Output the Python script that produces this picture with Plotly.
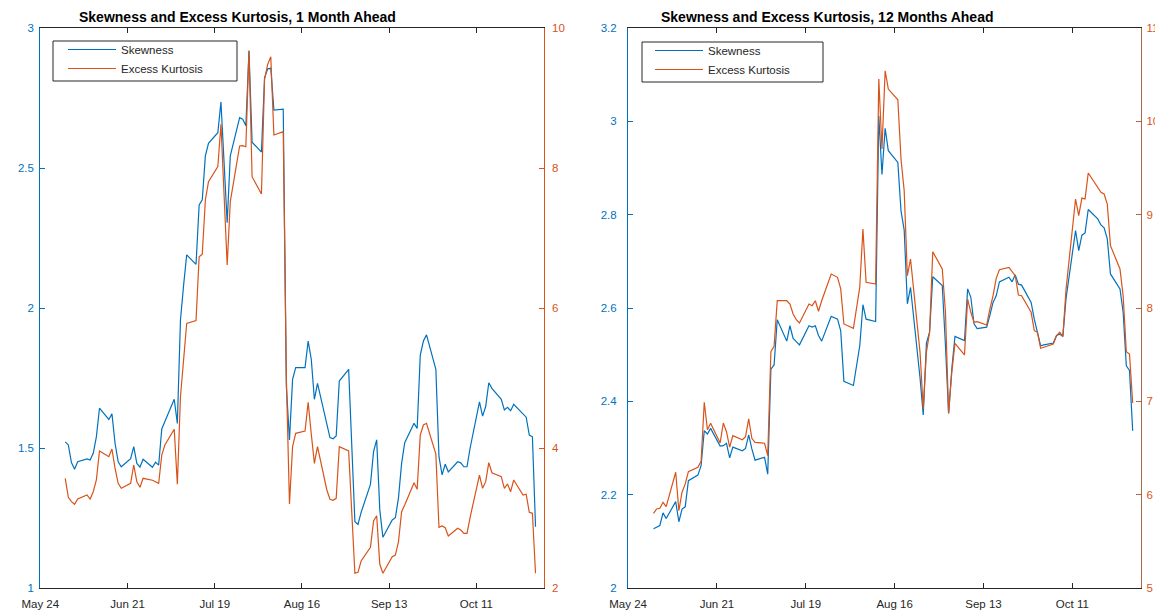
import pandas as pd
import plotly.graph_objects as go

# ---------------- data ----------------
dates = pd.bdate_range("2020-06-01", "2020-10-30")

skew_1m = [
    1.522, 1.511, 1.448, 1.424, 1.451, 1.461, 1.457, 1.481, 1.540, 1.642, 1.602, 1.622, 1.517, 1.451, 1.433, 1.462, 1.505, 1.445, 1.432, 1.460, 1.431, 1.449,
    1.439, 1.568, 1.595, 1.674, 1.588, 1.957, 2.080, 2.190, 2.156, 2.368, 2.386, 2.543, 2.588, 2.626, 2.736, 2.520, 2.305, 2.543, 2.680, 2.674, 2.651, 2.919, 2.592,
    2.557, 2.822, 2.854, 2.856, 2.707, 2.710, 1.720, 1.529, 1.745, 1.787, 1.787, 1.882, 1.817, 1.674, 1.731, 1.582, 1.537, 1.533, 1.543, 1.739, 1.781,
    1.510, 1.237, 1.227, 1.270, 1.370, 1.487, 1.529, 1.279, 1.181, 1.243, 1.251, 1.322, 1.445, 1.519, 1.588, 1.570, 1.832, 1.882, 1.904, 1.781, 1.469, 1.404,
    1.442, 1.415, 1.451, 1.447, 1.433, 1.433, 1.500, 1.665, 1.614, 1.648, 1.733, 1.713, 1.674, 1.636, 1.645, 1.633, 1.656, 1.624, 1.610, 1.546, 1.540, 1.219,
]
kurt_1m = [
    3.567, 3.296, 3.233, 3.196, 3.271, 3.329, 3.271, 3.376, 3.543, 3.957, 3.876, 3.986, 3.710, 3.496, 3.424, 3.496, 3.757, 3.519, 3.439, 3.567, 3.539, 3.519,
    3.496, 3.900, 4.043, 4.267, 3.481, 4.733, 5.300, 5.780, 5.820, 6.733, 6.770, 7.543, 7.804, 8.019, 8.624, 7.600, 6.614, 7.519, 8.314, 8.319, 8.304, 9.676, 7.876,
    7.629, 9.267, 9.481, 9.590, 8.471, 8.519, 5.000, 3.200, 4.019, 4.210, 4.243, 4.653, 4.200, 3.781, 4.019, 3.400, 3.267, 3.253, 3.281, 4.019, 3.957,
    3.100, 2.210, 2.224, 2.386, 2.581, 2.957, 3.033, 2.339, 2.210, 2.447, 2.471, 2.661, 3.090, 3.186, 3.504, 3.410, 4.186, 4.329, 4.353, 3.914, 2.867, 2.886,
    2.861, 2.743, 2.853, 2.829, 2.781, 2.781, 3.010, 3.614, 3.424, 3.519, 3.790, 3.647, 3.590, 3.424, 3.486, 3.376, 3.543, 3.329, 3.339, 3.081, 3.067, 2.210,
]
skew_12m = [
    2.127, 2.131, 2.134, 2.161, 2.149, 2.185, 2.142, 2.169, 2.174, 2.230, 2.242, 2.262, 2.337, 2.330, 2.342, 2.304, 2.305, 2.310, 2.279, 2.302, 2.294, 2.299,
    2.328, 2.298, 2.274, 2.280, 2.244, 2.469, 2.478, 2.575, 2.529, 2.562, 2.535, 2.528, 2.521, 2.562, 2.559, 2.562, 2.541, 2.529, 2.582, 2.579, 2.576, 2.551, 2.443,
    2.434, 2.476, 2.519, 2.607, 2.576, 2.571, 3.012, 2.886, 2.985, 2.937, 2.912, 2.808, 2.767, 2.609, 2.644, 2.450, 2.371, 2.524, 2.548, 2.667, 2.648,
    2.520, 2.374, 2.469, 2.539, 2.530, 2.641, 2.623, 2.566, 2.556, 2.559, 2.584, 2.612, 2.626, 2.656, 2.666, 2.656, 2.671, 2.651, 2.649, 2.612, 2.576, 2.548,
    2.519, 2.521, 2.525, 2.541, 2.544, 2.539, 2.620, 2.766, 2.723, 2.756, 2.761, 2.811, 2.791, 2.778, 2.772, 2.748, 2.673, 2.641, 2.591, 2.476, 2.466, 2.337,
]
kurt_12m = [
    5.800, 5.847, 5.854, 5.918, 5.871, 6.240, 5.829, 6.026, 6.115, 6.246, 6.293, 6.358, 6.990, 6.696, 6.765, 6.554, 6.768, 6.675, 6.508, 6.632, 6.589, 6.621,
    6.811, 6.604, 6.561, 6.551, 6.418, 7.532, 7.590, 8.078, 8.078, 8.043, 7.936, 7.875, 7.840, 8.043, 8.025, 8.078, 7.965, 8.078, 8.364, 8.346, 8.329, 8.204, 7.829,
    7.782, 7.990, 8.222, 8.846, 8.275, 8.257, 10.453, 9.703, 10.542, 10.346, 10.231, 9.596, 9.257, 8.346, 8.525, 7.525, 6.918, 7.525, 7.740, 8.603, 8.418,
    7.960, 6.872, 7.311, 7.622, 7.497, 8.096, 7.954, 7.847, 7.853, 7.818, 7.989, 8.132, 8.318, 8.410, 8.436, 8.389, 8.346, 8.139, 8.132, 7.954, 7.757, 7.740,
    7.568, 7.579, 7.614, 7.703, 7.740, 7.697, 8.200, 9.168, 8.989, 9.178, 9.168, 9.446, 9.293, 9.239, 9.221, 9.114, 8.668, 8.418, 8.132, 7.532, 7.507, 6.982,
]

tick_dates = ["2020-05-24", "2020-06-21", "2020-07-19", "2020-08-16", "2020-09-13", "2020-10-11"]
tick_text = ["May 24", "Jun 21", "Jul 19", "Aug 16", "Sep 13", "Oct 11"]
titles = ["Skewness and Excess Kurtosis, 1 Month Ahead",
          "Skewness and Excess Kurtosis, 12 Months Ahead"]

# ---------------- style ----------------
OFF = 8                      # default page body margin
W, H = 1163 - OFF, 610 - OFF
BLUE = "#0072BD"
ORANGE = "#D95319"
DARK = "#262626"
FONT = "Liberation Sans, Arial, sans-serif"
FS = 11.5
x_range = ["2020-05-24", "2020-11-01 15:00"]

def fx(px):  # screen px -> paper fraction
    return (px - OFF) / W

def fy(py):
    return 1 - (py - OFF) / H

top, bot = 28, 588
ydom = [fy(bot), fy(top)]
xdom1 = [fx(40.3), fx(543.7)]
xdom2 = [fx(628.1), fx(1141.0)]

fig = go.Figure()
lw = 1.2
fig.add_trace(go.Scatter(x=dates, y=skew_1m, name="Skewness", mode="lines",
                         line=dict(color=BLUE, width=lw), xaxis="x", yaxis="y", legend="legend"))
fig.add_trace(go.Scatter(x=dates, y=kurt_1m, name="Excess Kurtosis", mode="lines",
                         line=dict(color=ORANGE, width=lw), xaxis="x", yaxis="y2", legend="legend"))
fig.add_trace(go.Scatter(x=dates, y=skew_12m, name="Skewness", mode="lines",
                         line=dict(color=BLUE, width=lw), xaxis="x2", yaxis="y3", legend="legend2"))
fig.add_trace(go.Scatter(x=dates, y=kurt_12m, name="Excess Kurtosis", mode="lines",
                         line=dict(color=ORANGE, width=lw), xaxis="x2", yaxis="y4", legend="legend2"))

def xaxis(dom, anchor):
    return dict(domain=dom, anchor=anchor, type="date", range=x_range, automargin=False,
                tickmode="array", tickvals=tick_dates, ticktext=tick_text,
                ticks="inside", ticklen=5, tickcolor=DARK, tickwidth=1,
                showline=True, linecolor=DARK, linewidth=1, mirror="ticks",
                showgrid=False, zeroline=False,
                tickfont=dict(family=FONT, size=FS, color=DARK),
                ticklabelstandoff=5)

def yaxis(anchor, rng, color, side="left", overlay=None, dtick=None, linecolor=None, standoff=3):
    d = dict(domain=ydom, anchor=anchor, range=rng, side=side, automargin=False,
             ticks="inside", ticklen=5, tickcolor=linecolor or color, tickwidth=1,
             showline=True, linecolor=linecolor or color, linewidth=1.2,
             showgrid=False, zeroline=False, dtick=dtick,
             tickfont=dict(family=FONT, size=FS, color=color),
             ticklabelstandoff=standoff, ticklabeloverflow="allow")
    if overlay:
        d["overlaying"] = overlay
    return d

legend_common = dict(xanchor="left", yanchor="top",
                     bgcolor="rgba(0,0,0,0)", borderwidth=0,
                     font=dict(family=FONT, size=FS, color=DARK),
                     itemwidth=48, tracegroupgap=0)

fig.update_layout(
    template="none",
    width=W, height=H, autosize=False,
    margin=dict(l=0, r=0, t=0, b=0, autoexpand=False),
    paper_bgcolor="white", plot_bgcolor="white",
    xaxis=xaxis(xdom1, "y"),
    yaxis=yaxis("x", [1, 3], BLUE, dtick=0.5, standoff=3),
    yaxis2=yaxis("x", [2, 10], ORANGE, side="right", overlay="y", dtick=2, standoff=5),
    xaxis2=xaxis(xdom2, "y3"),
    yaxis3=yaxis("x2", [2, 3.2], BLUE, dtick=0.2, standoff=8),
    yaxis4=yaxis("x2", [5, 11], ORANGE, side="right", overlay="y3", dtick=1,
                 linecolor="#A86A4E", standoff=2),
    legend=dict(x=fx(63), y=fy(35), **legend_common),
    legend2=dict(x=fx(650), y=fy(36), **legend_common),
    showlegend=True,
    shapes=[
        dict(type="rect", xref="paper", yref="paper", x0=fx(53), x1=fx(237), y0=fy(81), y1=fy(41),
             line=dict(color=DARK, width=1), fillcolor="white", layer="below"),
        dict(type="rect", xref="paper", yref="paper", x0=fx(642), x1=fx(823), y0=fy(82), y1=fy(42),
             line=dict(color=DARK, width=1), fillcolor="white", layer="below"),
    ],
    annotations=[
        dict(text="<b>%s</b>" % titles[0], xref="paper", yref="paper", x=fx(237), y=1,
             xanchor="center", yanchor="top", showarrow=False, borderpad=0,
             font=dict(family=FONT, size=14, color="black")),
        dict(text="<b>%s</b>" % titles[1], xref="paper", yref="paper", x=fx(827), y=1,
             xanchor="center", yanchor="top", showarrow=False, borderpad=0,
             font=dict(family=FONT, size=14, color="black")),
    ],
)

fig.write_html("out.html")
